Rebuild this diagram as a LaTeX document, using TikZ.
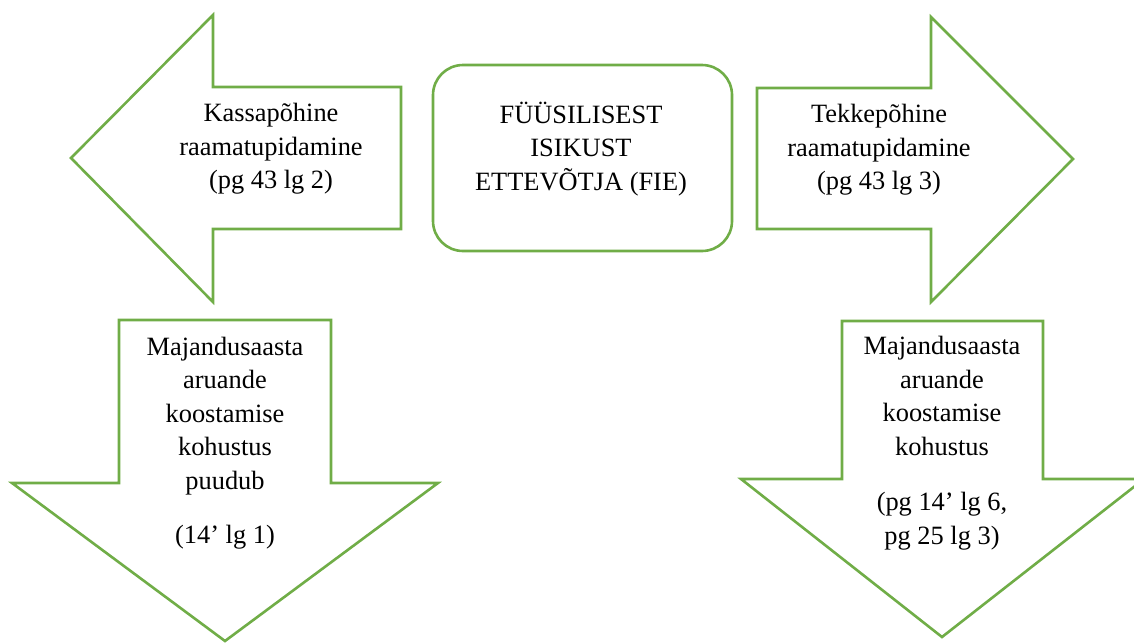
\documentclass[tikz,border=0pt]{standalone}
\usepackage{fontspec}
\setmainfont{Liberation Serif}
\definecolor{fiegreen}{RGB}{112,173,71}

\begin{document}
\begin{tikzpicture}[x=1pt, y=-1pt,
    shape line/.style={draw=fiegreen, line width=2.6pt, fill=white}, % rohelised kujundid
    box text/.style={align=center, font=\fontsize{26.4}{33.5}\selectfont}]
  \clip (0,0) rectangle (1134,643);

  % vasak nool
  \draw[shape line] (71,158) -- (213,15) -- (213,87) -- (401,87) -- (401,229)
    -- (213,229) -- (213,302) -- cycle;
  % keskmine kast
  \draw[shape line, rounded corners=30pt] (433,65) rectangle (732,251);
  % parem nool
  \draw[shape line] (757,88) -- (931,88) -- (931,17) -- (1073,159) -- (931,302)
    -- (931,229) -- (757,229) -- cycle;
  % alumised nooled
  \draw[shape line] (119,320) -- (331,320) -- (331,483) -- (438,483) -- (225,641)
    -- (12,483) -- (119,483) -- cycle;
  \draw[shape line] (842,321) -- (1043,321) -- (1043,479) -- (1144,479) -- (942,637)
    -- (741,479) -- (842,479) -- cycle;

  \node[box text] (kassa) at (271,149) {Kassapõhine\\raamatupidamine\\(pg 43 lg 2)};
  \node[box text] (fie) at (581,149) {FÜÜSILISEST\\ISIKUST\\ETTEVÕTJA (FIE)};
  \node[box text] (tekke) at (879,150) {Tekkepõhine\\raamatupidamine\\(pg 43 lg 3)};
  \node[box text] (puudub) at (225,443) {Majandusaasta\\aruande\\koostamise\\kohustus\\puudub\\[21pt](14’ lg 1)};
  \node[box text] (kohustus) at (942,443) {Majandusaasta\\aruande\\koostamise\\kohustus\\[22pt](pg 14’ lg 6,\\pg 25 lg 3)};
\end{tikzpicture}
\end{document}
